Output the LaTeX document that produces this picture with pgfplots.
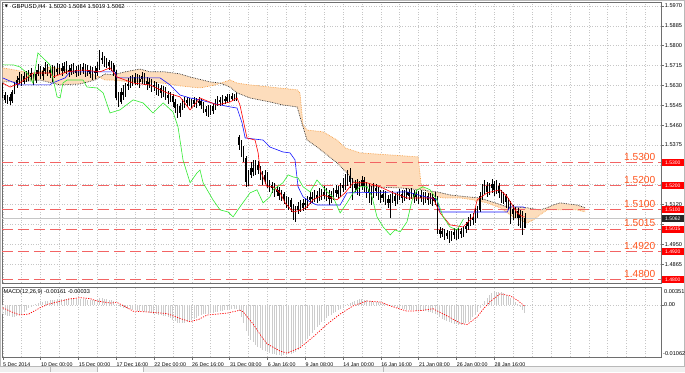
\documentclass[border=0pt]{standalone}
\usepackage{pgfplots}
\pgfplotsset{compat=1.18}
\usepackage{pgfplotstable}
\usepackage{fontspec}
\setmainfont{Liberation Sans}
\newfontfamily\dejavu{DejaVu Sans}
\definecolor{cloud}{RGB}{248,160,70}
\definecolor{cloudfill}{RGB}{253,221,188}
\definecolor{lvl}{RGB}{242,100,100}
\definecolor{lvltxt}{RGB}{255,85,30}
\definecolor{tenkan}{RGB}{255,0,0}
\definecolor{kijun}{RGB}{20,20,255}
\definecolor{chikou}{RGB}{50,235,50}
\definecolor{frame}{RGB}{110,110,110}

\pgfplotstableread{
i o h l c
0 1.5619 1.5640 1.5576 1.5589
1 1.5589 1.5602 1.5555 1.5568
2 1.5568 1.5589 1.5551 1.5581
3 1.5581 1.5593 1.5546 1.5563
4 1.5563 1.5611 1.5555 1.5602
5 1.5602 1.5645 1.5593 1.5632
6 1.5632 1.5670 1.5619 1.5653
7 1.5653 1.5688 1.5636 1.5662
8 1.5662 1.5679 1.5628 1.5645
9 1.5645 1.5688 1.5636 1.5670
10 1.5670 1.5692 1.5645 1.5658
11 1.5658 1.5696 1.5649 1.5683
12 1.5683 1.5705 1.5653 1.5666
13 1.5666 1.5679 1.5632 1.5653
14 1.5653 1.5696 1.5640 1.5679
15 1.5679 1.5722 1.5670 1.5696
16 1.5696 1.5713 1.5658 1.5670
17 1.5670 1.5709 1.5653 1.5692
18 1.5692 1.5730 1.5679 1.5705
19 1.5705 1.5722 1.5670 1.5683
20 1.5683 1.5713 1.5662 1.5696
21 1.5696 1.5718 1.5645 1.5675
22 1.5675 1.5713 1.5662 1.5700
23 1.5700 1.5726 1.5675 1.5688
24 1.5688 1.5722 1.5679 1.5705
25 1.5705 1.5726 1.5670 1.5692
26 1.5692 1.5730 1.5683 1.5713
27 1.5713 1.5735 1.5679 1.5696
28 1.5696 1.5718 1.5666 1.5688
29 1.5688 1.5722 1.5675 1.5705
30 1.5705 1.5726 1.5679 1.5696
31 1.5696 1.5713 1.5666 1.5683
32 1.5683 1.5718 1.5670 1.5700
33 1.5700 1.5722 1.5675 1.5692
34 1.5692 1.5726 1.5679 1.5709
35 1.5709 1.5722 1.5666 1.5688
36 1.5688 1.5718 1.5670 1.5696
37 1.5696 1.5713 1.5662 1.5679
38 1.5679 1.5709 1.5653 1.5692
39 1.5692 1.5713 1.5658 1.5683
40 1.5683 1.5730 1.5670 1.5705
41 1.5705 1.5782 1.5696 1.5747
42 1.5747 1.5773 1.5722 1.5739
43 1.5739 1.5756 1.5709 1.5726
44 1.5726 1.5747 1.5705 1.5730
45 1.5730 1.5739 1.5696 1.5713
46 1.5713 1.5735 1.5692 1.5718
47 1.5718 1.5726 1.5670 1.5688
48 1.5688 1.5696 1.5568 1.5576
49 1.5576 1.5602 1.5538 1.5559
50 1.5559 1.5619 1.5551 1.5602
51 1.5602 1.5632 1.5568 1.5589
52 1.5589 1.5640 1.5581 1.5628
53 1.5628 1.5662 1.5611 1.5636
54 1.5636 1.5670 1.5619 1.5653
55 1.5653 1.5675 1.5628 1.5640
56 1.5640 1.5683 1.5632 1.5666
57 1.5666 1.5679 1.5632 1.5645
58 1.5645 1.5675 1.5619 1.5658
59 1.5658 1.5688 1.5636 1.5670
60 1.5670 1.5683 1.5632 1.5649
61 1.5649 1.5666 1.5611 1.5636
62 1.5636 1.5662 1.5619 1.5645
63 1.5645 1.5658 1.5602 1.5623
64 1.5623 1.5649 1.5606 1.5632
65 1.5632 1.5645 1.5589 1.5611
66 1.5611 1.5636 1.5585 1.5619
67 1.5619 1.5632 1.5576 1.5598
68 1.5598 1.5628 1.5581 1.5611
69 1.5611 1.5623 1.5568 1.5589
70 1.5589 1.5606 1.5551 1.5576
71 1.5576 1.5602 1.5559 1.5585
72 1.5585 1.5593 1.5538 1.5559
73 1.5559 1.5572 1.5512 1.5533
74 1.5533 1.5551 1.5491 1.5512
75 1.5512 1.5555 1.5495 1.5542
76 1.5542 1.5572 1.5525 1.5551
77 1.5551 1.5581 1.5533 1.5568
78 1.5568 1.5581 1.5538 1.5555
79 1.5555 1.5576 1.5542 1.5563
80 1.5563 1.5572 1.5533 1.5551
81 1.5551 1.5581 1.5538 1.5568
82 1.5568 1.5576 1.5533 1.5555
83 1.5555 1.5581 1.5542 1.5563
84 1.5563 1.5572 1.5529 1.5546
85 1.5546 1.5559 1.5512 1.5529
86 1.5529 1.5542 1.5499 1.5516
87 1.5516 1.5546 1.5495 1.5533
88 1.5533 1.5546 1.5504 1.5521
89 1.5521 1.5555 1.5508 1.5542
90 1.5542 1.5572 1.5525 1.5555
91 1.5555 1.5585 1.5542 1.5568
92 1.5568 1.5581 1.5542 1.5559
93 1.5559 1.5589 1.5546 1.5572
94 1.5572 1.5585 1.5551 1.5563
95 1.5563 1.5593 1.5555 1.5581
96 1.5581 1.5593 1.5559 1.5572
97 1.5572 1.5598 1.5563 1.5585
98 1.5585 1.5593 1.5563 1.5576
99 1.5576 1.5598 1.5563 1.5581
100 1.5409 1.5418 1.5354 1.5375
101 1.5375 1.5396 1.5324 1.5354
102 1.5354 1.5371 1.5302 1.5319
103 1.5319 1.5328 1.5196 1.5217
104 1.5217 1.5268 1.5200 1.5247
105 1.5247 1.5302 1.5234 1.5277
106 1.5277 1.5311 1.5242 1.5260
107 1.5260 1.5311 1.5247 1.5290
108 1.5290 1.5307 1.5251 1.5268
109 1.5268 1.5285 1.5225 1.5242
110 1.5242 1.5264 1.5204 1.5225
111 1.5225 1.5268 1.5208 1.5247
112 1.5247 1.5260 1.5191 1.5213
113 1.5213 1.5225 1.5174 1.5191
114 1.5191 1.5217 1.5170 1.5204
115 1.5204 1.5213 1.5153 1.5174
116 1.5174 1.5200 1.5157 1.5183
117 1.5183 1.5196 1.5140 1.5157
118 1.5157 1.5183 1.5135 1.5165
119 1.5165 1.5174 1.5123 1.5144
120 1.5144 1.5157 1.5106 1.5127
121 1.5127 1.5153 1.5097 1.5140
122 1.5140 1.5148 1.5088 1.5110
123 1.5110 1.5123 1.5054 1.5080
124 1.5080 1.5114 1.5046 1.5097
125 1.5097 1.5131 1.5080 1.5114
126 1.5114 1.5140 1.5088 1.5106
127 1.5106 1.5144 1.5093 1.5127
128 1.5127 1.5148 1.5097 1.5118
129 1.5118 1.5157 1.5106 1.5140
130 1.5140 1.5174 1.5123 1.5153
131 1.5153 1.5174 1.5127 1.5144
132 1.5144 1.5183 1.5131 1.5161
133 1.5161 1.5178 1.5127 1.5148
134 1.5148 1.5191 1.5135 1.5170
135 1.5170 1.5187 1.5140 1.5157
136 1.5157 1.5200 1.5144 1.5174
137 1.5174 1.5191 1.5135 1.5161
138 1.5161 1.5183 1.5118 1.5144
139 1.5144 1.5178 1.5127 1.5157
140 1.5157 1.5191 1.5140 1.5170
141 1.5170 1.5204 1.5153 1.5183
142 1.5183 1.5200 1.5144 1.5165
143 1.5165 1.5213 1.5153 1.5191
144 1.5191 1.5234 1.5174 1.5204
145 1.5204 1.5251 1.5183 1.5225
146 1.5225 1.5268 1.5200 1.5242
147 1.5242 1.5277 1.5191 1.5217
148 1.5217 1.5234 1.5140 1.5191
149 1.5191 1.5225 1.5174 1.5208
150 1.5208 1.5230 1.5161 1.5183
151 1.5183 1.5221 1.5157 1.5200
152 1.5200 1.5242 1.5183 1.5225
153 1.5225 1.5238 1.5174 1.5200
154 1.5200 1.5217 1.5148 1.5174
155 1.5174 1.5208 1.5127 1.5187
156 1.5187 1.5200 1.5118 1.5165
157 1.5165 1.5213 1.5148 1.5191
158 1.5191 1.5208 1.5157 1.5178
159 1.5178 1.5196 1.5140 1.5161
160 1.5161 1.5183 1.5127 1.5148
161 1.5148 1.5183 1.5131 1.5165
162 1.5165 1.5178 1.5118 1.5144
163 1.5144 1.5161 1.5106 1.5127
164 1.5127 1.5165 1.5063 1.5144
165 1.5144 1.5178 1.5127 1.5157
166 1.5157 1.5170 1.5114 1.5135
167 1.5135 1.5174 1.5123 1.5153
168 1.5153 1.5187 1.5140 1.5165
169 1.5165 1.5183 1.5127 1.5148
170 1.5148 1.5183 1.5135 1.5161
171 1.5161 1.5191 1.5144 1.5174
172 1.5174 1.5187 1.5140 1.5157
173 1.5157 1.5191 1.5144 1.5170
174 1.5170 1.5183 1.5127 1.5153
175 1.5153 1.5183 1.5135 1.5165
176 1.5165 1.5178 1.5123 1.5148
177 1.5148 1.5183 1.5131 1.5161
178 1.5161 1.5174 1.5118 1.5144
179 1.5144 1.5174 1.5127 1.5157
180 1.5157 1.5170 1.5118 1.5140
181 1.5140 1.5170 1.5123 1.5153
182 1.5153 1.5165 1.5114 1.5135
183 1.5135 1.5174 1.5118 1.5148
184 1.5148 1.5157 1.4994 1.5011
185 1.5011 1.5024 1.4977 1.4994
186 1.4994 1.5020 1.4981 1.5007
187 1.5007 1.5015 1.4969 1.4986
188 1.4986 1.5011 1.4973 1.4998
189 1.4998 1.5007 1.4956 1.4977
190 1.4977 1.5007 1.4964 1.4990
191 1.4990 1.5020 1.4973 1.5003
192 1.5003 1.5015 1.4969 1.4986
193 1.4986 1.5020 1.4973 1.5007
194 1.5007 1.5020 1.4977 1.4994
195 1.4994 1.5028 1.4981 1.5015
196 1.5015 1.5046 1.4998 1.5028
197 1.5028 1.5067 1.5011 1.5046
198 1.5046 1.5080 1.5028 1.5063
199 1.5063 1.5084 1.5033 1.5054
200 1.5054 1.5106 1.5041 1.5080
201 1.5080 1.5114 1.5063 1.5097
202 1.5097 1.5174 1.5088 1.5157
203 1.5157 1.5208 1.5140 1.5183
204 1.5183 1.5225 1.5165 1.5200
205 1.5200 1.5217 1.5153 1.5174
206 1.5174 1.5213 1.5161 1.5191
207 1.5191 1.5230 1.5170 1.5208
208 1.5208 1.5221 1.5157 1.5183
209 1.5183 1.5225 1.5165 1.5200
210 1.5200 1.5213 1.5148 1.5170
211 1.5170 1.5183 1.5127 1.5148
212 1.5148 1.5174 1.5123 1.5157
213 1.5157 1.5165 1.5106 1.5131
214 1.5131 1.5148 1.5097 1.5118
215 1.5118 1.5135 1.5037 1.5101
216 1.5101 1.5118 1.5054 1.5080
217 1.5080 1.5110 1.5063 1.5093
218 1.5093 1.5106 1.5028 1.5063
219 1.5063 1.5097 1.5020 1.5076
220 1.5076 1.5093 1.4990 1.5020
221 1.5020 1.5084 1.5019 1.5062
}\candles

\pgfplotsset{mt/.style={
  scale only axis, xmin=-0.3, xmax=278.6,
  scaled y ticks=false, scaled x ticks=false,
  axis line style={frame, line width=0.7pt},
  xtick={0,8,...,272}, xmajorgrids, ymajorgrids,
  grid style={gray!45, dash pattern=on 1pt off 1.6pt, line width=0.4pt},
  tick align=outside, ytick pos=right, xtick pos=bottom, yticklabel pos=right,
  xtick style={draw=none}, ytick style={frame, line width=0.4pt},
  major tick length=2.5pt,
  yticklabel style={font=\fontsize{5.6}{6}\selectfont, inner sep=0pt, xshift=1.2pt, anchor=west},
}}

\begin{document}
\begin{tikzpicture}[x=1pt,y=1pt]
\fill[white] (0,0) rectangle (685,-372);
\fill[gray!12] (0,-366.5) rectangle (685,-372);
\fill[white] (97,-366.5) rectangle (143,-372);
\draw[gray!55, line width=0.4pt] (50,-366.5)--(50,-372) (97,-366.5)--(97,-372) (143,-366.5)--(143,-372) (383,-366.5)--(383,-372);
\draw[gray!55, line width=0.6pt] (0.3,-0.3) rectangle (684.7,-366.5);

% ---------------- main price panel ----------------
\begin{axis}[mt, at={(2pt,-2pt)}, anchor=north west, width=659pt, height=281pt,
  ymin=1.4784, ymax=1.5987,
  ytick={1.5970,1.5885,1.5800,1.5715,1.5630,1.5545,1.5460,1.5375,1.5290,1.5205,1.5120,1.5035,1.4950,1.4865,1.4780},
  yticklabels={1.5970,1.5885,1.5800,1.5715,1.5630,1.5545,1.5460,1.5375,{},{},1.5120,{},1.4950,1.4865,1.4780},
  xticklabels={}]

% Ichimoku cloud area: Senkou span A forward, then span B backward
\addplot[fill=cloudfill, draw=none, forget plot] coordinates {
(0,1.5705) (5.2,1.5696) (13.7,1.5679) (20,1.5709) (27.2,1.5696) (34.8,1.5683) (39,1.5675) (43.3,1.5653) (46.7,1.5653) (53.9,1.5645) (62.3,1.5645) (70.8,1.5636) (75,1.5628) (83.5,1.5619) (89.9,1.5632) (96.2,1.5653) (99.2,1.5640) (104.7,1.5632) (124.6,1.5611) (125.8,1.5598) (127.1,1.5461) (128.8,1.5439) (135.6,1.5431) (141.5,1.5396) (145,1.5362) (151.3,1.5341) (175.8,1.5324) (177.1,1.5204) (180.9,1.5161) (186.4,1.5148) (193.6,1.5148) (199.1,1.5140) (205,1.5127) (210.5,1.5106) (216,1.5067) (221.9,1.5041) (224.5,1.5054) (227.4,1.5076) (230.4,1.5097) (235.9,1.5097) (243.1,1.5097) (246.5,1.5088)
(246.5,1.5106) (243.1,1.5118) (238.8,1.5123) (235.9,1.5127) (233,1.5118) (230.4,1.5106) (227.4,1.5097) (221.9,1.5106) (213.5,1.5110) (208.4,1.5127) (202,1.5148) (196.5,1.5153) (189.3,1.5161) (183.8,1.5174) (176.6,1.5183) (168.2,1.5191) (155.5,1.5196) (149.1,1.5213) (145.7,1.5255) (141.5,1.5298) (137.3,1.5332) (133,1.5366) (128.8,1.5396) (127.1,1.5452) (124.6,1.5538) (118.6,1.5546) (113.1,1.5559) (104.7,1.5576) (99.2,1.5598) (96.2,1.5623) (92,1.5640) (87.7,1.5645) (79.3,1.5666) (75,1.5679) (68.7,1.5688) (62.3,1.5688) (58.1,1.5700) (51.8,1.5688) (46.7,1.5675) (43.3,1.5679) (39,1.5653) (32.7,1.5636) (24.3,1.5632) (15.8,1.5653) (7.3,1.5645) (0,1.5645)} -- cycle;
\addplot[cloud, densely dotted, line width=0.7pt] coordinates {
(0,1.5705) (5.2,1.5696) (13.7,1.5679) (20,1.5709) (27.2,1.5696) (34.8,1.5683) (39,1.5675) (43.3,1.5653) (46.7,1.5653) (53.9,1.5645) (62.3,1.5645) (70.8,1.5636) (75,1.5628) (83.5,1.5619) (89.9,1.5632) (96.2,1.5653) (99.2,1.5640) (104.7,1.5632) (124.6,1.5611) (125.8,1.5598) (127.1,1.5461) (128.8,1.5439) (135.6,1.5431) (141.5,1.5396) (145,1.5362) (151.3,1.5341) (175.8,1.5324) (177.1,1.5204) (180.9,1.5161) (186.4,1.5148) (193.6,1.5148) (199.1,1.5140) (205,1.5127) (210.5,1.5106) (216,1.5067) (221.9,1.5041) (224.5,1.5054) (227.4,1.5076) (230.4,1.5097) (235.9,1.5097) (243.1,1.5097) (246.5,1.5088)};
\addplot[black!85, densely dotted, line width=0.7pt] coordinates {
(0,1.5645) (7.3,1.5645) (15.8,1.5653) (24.3,1.5632) (32.7,1.5636) (39,1.5653) (43.3,1.5679) (46.7,1.5675) (51.8,1.5688) (58.1,1.5700) (62.3,1.5688) (68.7,1.5688) (75,1.5679) (79.3,1.5666) (87.7,1.5645) (92,1.5640) (96.2,1.5623) (99.2,1.5598) (104.7,1.5576) (113.1,1.5559) (118.6,1.5546) (124.6,1.5538) (127.1,1.5452) (128.8,1.5396) (133,1.5366) (137.3,1.5332) (141.5,1.5298) (145.7,1.5255) (149.1,1.5213) (155.5,1.5196) (168.2,1.5191) (176.6,1.5183) (183.8,1.5174) (189.3,1.5161) (196.5,1.5153) (202,1.5148) (208.4,1.5127) (213.5,1.5110) (221.9,1.5106) (227.4,1.5097) (230.4,1.5106) (233,1.5118) (235.9,1.5127) (238.8,1.5123) (243.1,1.5118) (246.5,1.5106)};

% current price line and levels
\addplot[gray!45, line width=0.5pt] coordinates {(-0.3,1.5062) (278.6,1.5062)};
\pgfplotsinvokeforeach{1.5300,1.5200,1.5100,1.5015,1.4920,1.4800}{
  \addplot[lvl, line width=1pt, dash pattern=on 11pt off 5pt] coordinates {(-0.3,#1) (278.6,#1)};
}

% candles: wicks and bodies
\addplot[draw=none, mark=none, forget plot,
  error bars/.cd, y dir=plus, y explicit, error mark=none,
  error bar style={draw=black, line width=0.55pt}]
  table[x=i, y=l, y error expr=\thisrow{h}-\thisrow{l}] \candles;
\addplot[draw=none, mark=none, forget plot,
  error bars/.cd, y dir=plus, y explicit, error mark=none,
  error bar style={draw=black, line width=1.5pt}]
  table[x=i, y expr={min(\thisrow{o},\thisrow{c})}, y error expr={abs(\thisrow{c}-\thisrow{o})+0.00004}] \candles;

% Kijun-sen
\addplot[kijun, line width=0.6pt] coordinates {
(0,1.5662) (3,1.5649) (7.3,1.5632) (20,1.5632) (21,1.5640) (26.4,1.5662) (28.5,1.5688) (40,1.5688) (47.5,1.5688) (48.4,1.5662) (66.6,1.5662) (70.8,1.5632) (75,1.5589) (79.3,1.5576) (83.5,1.5568) (89.9,1.5551) (96.2,1.5538) (99.2,1.5533) (101.3,1.5469) (102.6,1.5405) (110.2,1.5396) (113.1,1.5366) (118.6,1.5345) (121.6,1.5341) (123.7,1.5311) (125,1.5196) (127.1,1.5153) (130.1,1.5131) (133,1.5118) (142.8,1.5118) (145.7,1.5170) (171.1,1.5174) (183.8,1.5140) (185.1,1.5088) (213.5,1.5088) (214.7,1.5110) (220.2,1.5110) (221,1.5106)};
% Tenkan-sen
\addplot[tenkan, line width=0.6pt] coordinates {
(0,1.5640) (3.1,1.5623) (7.3,1.5640) (12.8,1.5683) (20,1.5683) (21.3,1.5666) (27.2,1.5688) (34,1.5696) (41.2,1.5688) (45.4,1.5705) (48.4,1.5666) (55.2,1.5640) (62.3,1.5632) (69.5,1.5598) (75,1.5581) (79.3,1.5525) (83.5,1.5576) (90.7,1.5546) (96.2,1.5559) (99.2,1.5576) (100.4,1.5546) (103.4,1.5405) (106.8,1.5396) (108.1,1.5341) (108.9,1.5268) (111.9,1.5196) (114.4,1.5196) (117.4,1.5170) (119.5,1.5127) (122.9,1.5088) (126.7,1.5097) (128.8,1.5110) (131.3,1.5140) (135.6,1.5161) (141.5,1.5140) (144.9,1.5170) (148.3,1.5213) (154.2,1.5213) (159.7,1.5196) (165.2,1.5170) (171.1,1.5148) (182.1,1.5148) (185.1,1.5084) (189.3,1.5033) (194.8,1.5024) (199.1,1.5067) (200.8,1.5140) (205,1.5170) (210.5,1.5183) (213.5,1.5153) (217.7,1.5084) (220.2,1.5067) (221,1.5067)};
% Chikou span
\addplot[chikou, line width=0.6pt] coordinates {
(0,1.5718) (4.4,1.5718) (7.3,1.5709) (10.3,1.5683) (12.8,1.5640) (14.9,1.5769) (20,1.5718) (23,1.5581) (24.3,1.5576) (25.5,1.5640) (27.2,1.5653) (34,1.5653) (35.7,1.5623) (39.9,1.5619) (42.5,1.5598) (45.4,1.5512) (49.6,1.5525) (55.2,1.5568) (59.4,1.5555) (63.6,1.5512) (67.9,1.5555) (72.1,1.5516) (74.2,1.5452) (76.3,1.5311) (79.3,1.5213) (82.2,1.5255) (83.5,1.5268) (84.8,1.5213) (89,1.5140) (92,1.5097) (95.4,1.5088) (97.5,1.5067) (100.4,1.5110) (104.7,1.5170) (107.6,1.5183) (110.2,1.5127) (113.1,1.5153) (114.4,1.5183) (118.6,1.5213) (120.8,1.5247) (122.9,1.5238) (125,1.5234) (127.1,1.5196) (130.1,1.5174) (133,1.5225) (137.3,1.5174) (139.8,1.5153) (142.8,1.5084) (145.7,1.5127) (148.3,1.5170) (151.3,1.5196) (154.2,1.5196) (156.3,1.5153) (158.4,1.5067) (161,1.5024) (164,1.4990) (166,1.5011) (168.2,1.5003) (171.1,1.5046) (173.3,1.5140) (175.4,1.5183) (177.9,1.5196) (180.9,1.5183) (183.8,1.5140) (186.4,1.5067) (189.3,1.5024) (192.3,1.5011) (195,1.5058)};

% level texts
\pgfplotsinvokeforeach{1.5300,1.5200,1.5100,1.5015,1.4920,1.4800}{
  \node[anchor=south, text=lvltxt, font=\fontsize{10.2}{11}\selectfont, inner sep=0pt, yshift=1.8pt] at (axis cs:269.6,#1) {#1};
}
\end{axis}

% right-side price boxes (absolute positions matching the axis scale)
\foreach \p/\yy in {1.5300/162.5,1.5200/185.9,1.5100/209.3,1.5015/229.2,1.4920/251.4,1.4800/279.4}{
  \node[anchor=west, fill=red, text=white, font=\fontsize{5}{5}\selectfont, inner sep=0.6pt, minimum width=22pt, minimum height=7pt] at (661.6,-\yy) {\p};
}
\node[anchor=west, fill=black!85, text=white, font=\fontsize{5}{5}\selectfont, inner sep=0.6pt, minimum width=22pt, minimum height=7pt] at (661.6,-218.4) {1.5062};

% ---------------- MACD panel ----------------
\begin{axis}[mt, at={(2pt,-287pt)}, anchor=north west, width=659pt, height=70pt,
  ymin=-0.01083, ymax=0.00372,
  ytick={0}, yticklabels={},
  xticklabels={5 Dec 2014,{},10 Dec 00:00,{},15 Dec 00:00,{},17 Dec 16:00,{},22 Dec 00:00,{},26 Dec 16:00,{},31 Dec 08:00,{},6 Jan 16:00,{},9 Jan 08:00,{},14 Jan 00:00,{},16 Jan 16:00,{},21 Jan 08:00,{},26 Jan 00:00,{},28 Jan 16:00,{},{},{},{},{},{},{},{},{}},
  xticklabel style={font=\fontsize{5.3}{6}\selectfont, anchor=north west, inner sep=0pt, yshift=-3pt, xshift=0.3pt},
  extra x ticks={0,16,...,208}, extra x tick labels={},
  extra x tick style={grid=none, xtick style={draw=frame, line width=0.4pt}}]
\addplot[ycomb, draw=gray!40, line width=0.9pt] coordinates {
(0,-0.0018) (1,-0.0021) (2,-0.0023) (3,-0.0024) (4,-0.0025) (5,-0.0025) (6,-0.0024) (7,-0.0022) (8,-0.0019) (9,-0.0015)
(10,-0.0011) (11,-0.0007) (12,-0.0004) (13,-0.0001) (14,0.0002) (15,0.0004) (16,0.0006) (17,0.0007) (18,0.0008) (19,0.0009)
(20,0.0010) (21,0.0011) (22,0.0011) (23,0.0012) (24,0.0012) (25,0.0013) (26,0.0013) (27,0.0013) (28,0.0014) (29,0.0014)
(30,0.0014) (31,0.0013) (32,0.0013) (33,0.0013) (34,0.0012) (35,0.0012) (36,0.0011) (37,0.0011) (38,0.0011) (39,0.0010)
(40,0.0011) (41,0.0014) (42,0.0014) (43,0.0013) (44,0.0012) (45,0.0011) (46,0.0010) (47,0.0008) (48,0.0002) (49,-0.0003)
(50,-0.0005) (51,-0.0006) (52,-0.0007) (53,-0.0008) (54,-0.0009) (55,-0.0010) (56,-0.0011) (57,-0.0012) (58,-0.0013) (59,-0.0013)
(60,-0.0014) (61,-0.0015) (62,-0.0016) (63,-0.0017) (64,-0.0018) (65,-0.0019) (66,-0.0020) (67,-0.0022) (68,-0.0023) (69,-0.0024)
(70,-0.0026) (71,-0.0028) (72,-0.0031) (73,-0.0034) (74,-0.0037) (75,-0.0038) (76,-0.0038) (77,-0.0037) (78,-0.0036) (79,-0.0034)
(80,-0.0032) (81,-0.0030) (82,-0.0027) (83,-0.0024) (84,-0.0021) (85,-0.0019) (86,-0.0018) (87,-0.0018) (88,-0.0017) (89,-0.0016)
(90,-0.0015) (91,-0.0014) (92,-0.0013) (93,-0.0012) (94,-0.0011) (95,-0.0010) (96,-0.0010) (97,-0.0009) (98,-0.0009) (99,-0.0009)
(100,-0.0012) (101,-0.0025) (102,-0.0038) (103,-0.0055) (104,-0.0065) (105,-0.0072) (106,-0.0078) (107,-0.0083) (108,-0.0087) (109,-0.0090)
(110,-0.0093) (111,-0.0096) (112,-0.0098) (113,-0.0100) (114,-0.0102) (115,-0.0103) (116,-0.0104) (117,-0.0105) (118,-0.0106) (119,-0.0105)
(120,-0.0104) (121,-0.0103) (122,-0.0102) (123,-0.0100) (124,-0.0097) (125,-0.0093) (126,-0.0088) (127,-0.0082) (128,-0.0076) (129,-0.0070)
(130,-0.0064) (131,-0.0058) (132,-0.0052) (133,-0.0046) (134,-0.0041) (135,-0.0036) (136,-0.0031) (137,-0.0027) (138,-0.0023) (139,-0.0020)
(140,-0.0017) (141,-0.0014) (142,-0.0011) (143,-0.0008) (144,-0.0005) (145,-0.0002) (146,0.0001) (147,0.0004) (148,0.0007) (149,0.0009)
(150,0.0011) (151,0.0012) (152,0.0012) (153,0.0011) (154,0.0010) (155,0.0009) (156,0.0008) (157,0.0007) (158,0.0006) (159,0.0005)
(160,0.0004) (161,0.0003) (162,0.0002) (163,0.0000) (164,-0.0002) (165,-0.0003) (166,-0.0005) (167,-0.0006) (168,-0.0007) (169,-0.0008)
(170,-0.0009) (171,-0.0010) (172,-0.0010) (173,-0.0011) (174,-0.0011) (175,-0.0012) (176,-0.0012) (177,-0.0012) (178,-0.0013) (179,-0.0013)
(180,-0.0014) (181,-0.0015) (182,-0.0016) (183,-0.0018) (184,-0.0022) (185,-0.0026) (186,-0.0029) (187,-0.0032) (188,-0.0034) (189,-0.0036)
(190,-0.0038) (191,-0.0039) (192,-0.0040) (193,-0.0041) (194,-0.0041) (195,-0.0040) (196,-0.0038) (197,-0.0035) (198,-0.0031) (199,-0.0026)
(200,-0.0021) (201,-0.0014) (202,-0.0006) (203,0.0002) (204,0.0009) (205,0.0015) (206,0.0020) (207,0.0024) (208,0.0026) (209,0.0027)
(210,0.0027) (211,0.0026) (212,0.0024) (213,0.0021) (214,0.0018) (215,0.0014) (216,0.0010) (217,0.0006) (218,0.0002) (219,-0.0004)
(220,-0.0010) (221,-0.0016)};
\addplot[red, line width=0.7pt, dash pattern=on 1.2pt off 1.3pt] coordinates {
(0,-0.0006) (4,-0.0015) (7.3,-0.0021) (11,-0.0019) (15.8,-0.0006) (19,0.0001) (23,0.0006) (28,0.0012) (32.7,0.0015) (37,0.0013) (40,0.0008) (45.4,0.0004) (48.4,0.0005) (52,-0.0004) (55.2,-0.0013) (62.3,-0.0015) (69.5,-0.0018) (75,-0.0028) (79.3,-0.0035) (83,-0.0030) (86.5,-0.0021) (95,-0.0017) (100.4,-0.0011) (101.7,-0.0014) (106,-0.0040) (109,-0.0062) (111.9,-0.0081) (117.4,-0.0096) (120.3,-0.0100) (125.8,-0.0089) (131.3,-0.0067) (137.3,-0.0040) (142.8,-0.0019) (148.3,-0.0002) (154.2,0.0008) (159.7,0.0006) (165.2,-0.0004) (171.1,-0.0013) (176.6,-0.0012) (182.1,-0.0008) (188.1,-0.0023) (193.6,-0.0038) (196.5,-0.0041) (200.8,-0.0025) (203.5,-0.0008) (206.3,0.0007) (210.5,0.0023) (214.7,0.0019) (218,0.0009) (221,-0.0003)};
\end{axis}

% texts
\node[inner sep=0pt, font=\dejavu\fontsize{4}{4}\selectfont] at (6.5,-6.6) {▼};
\node[anchor=west, inner sep=0pt, font=\fontsize{5.8}{6}\selectfont] at (12,-6.6) {GBPUSD,H4\ \ 1.5020 1.5084 1.5019 1.5062};
\node[anchor=west, inner sep=0pt, font=\fontsize{5.6}{6}\selectfont] at (3.5,-292.5) {MACD(12,26,9) -0.00161 -0.00033};
\node[anchor=west, inner sep=0pt, font=\fontsize{5.6}{6}\selectfont] at (664,-291.5) {0.00351};
\node[anchor=west, inner sep=0pt, font=\fontsize{5.6}{6}\selectfont] at (664,-305) {0.00};
\node[anchor=west, inner sep=0pt, font=\fontsize{5.6}{6}\selectfont] at (663,-354) {-0.01062};
\pgfresetboundingbox
\path[use as bounding box] (0,0) rectangle (685,-372);
\end{tikzpicture}
\end{document}
